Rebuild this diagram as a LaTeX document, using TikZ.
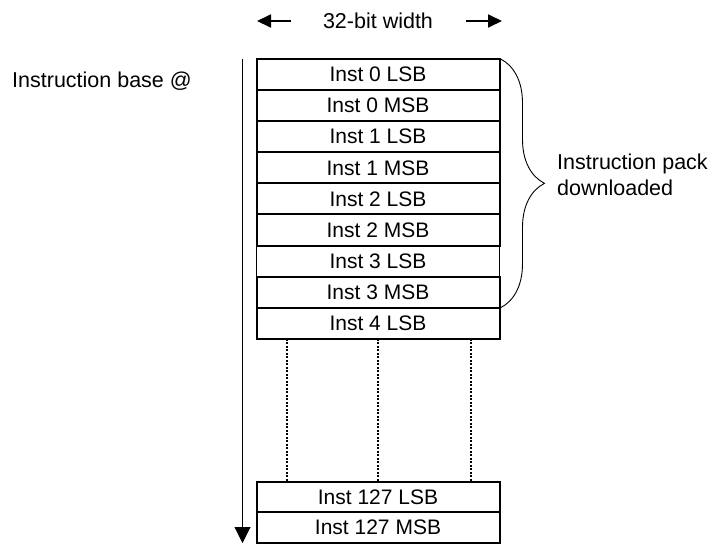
\documentclass[tikz,border=0pt]{standalone}
\usepackage{fontspec}
\setmainfont{Liberation Sans}
\usetikzlibrary{positioning,arrows.meta,decorations.pathreplacing}

\tikzset{
  cell/.style={draw,line width=2pt,minimum width=243pt,minimum height=31.1pt,
    inner sep=0pt,outer sep=0pt,font=\fontsize{21}{24}\selectfont},
  thincell/.style={cell,line width=0.8pt},
  lbl/.style={font=\fontsize{21.5}{26}\selectfont,inner sep=0pt},
}

\begin{document}
\begin{tikzpicture}[x=1pt,y=-1pt,>=Latex,line cap=butt,line join=miter]
            \useasboundingbox (0,0) rectangle (715,544);

            % top rows of the memory
            \node[cell] (r0) at (378,74.5) {Inst 0 LSB};
            \node[cell,below=0pt of r0] (r1) {Inst 0 MSB};
            \node[cell,below=0pt of r1] (r2) {Inst 1 LSB};
            \node[cell,below=0pt of r2] (r3) {Inst 1 MSB};
            \node[cell,below=0pt of r3] (r4) {Inst 2 LSB};
            \node[cell,below=0pt of r4] (r5) {Inst 2 MSB};
            \node[thincell,below=0pt of r5] (r6) {Inst 3 LSB};
            \node[cell,below=0pt of r6] (r7) {Inst 3 MSB};
            \node[cell,below=0pt of r7] (r8) {Inst 4 LSB};

            % last rows
            \node[cell,minimum height=30.7pt] (q0) at (378,497) {Inst 127 LSB};
            \node[cell,minimum height=30.7pt,below=0pt of q0] (q1) {Inst 127 MSB};

            % dotted gap
            \foreach \dx in {-91,0,93}
                \draw[line width=2pt,dash pattern=on 2pt off 1.5pt]
                ([xshift=\dx pt]r8.south) -- ([xshift=\dx pt]q0.north);

            % address arrow
            \coordinate (atop) at (242.5,59);
            \coordinate (abot) at (242.5,543);
            \draw[line width=1pt,-{Triangle[length=16pt,width=16pt]}] (atop) -- (abot);
            \node[lbl,anchor=west] (base) at (12,81) {Instruction base @};

            % width arrows
            \node[lbl] (wid) at (378,21) {32-bit width};
            \coordinate (wl) at (257,21);
            \coordinate (wr) at (502,21);
            \draw[line width=1.8pt,-{Triangle[length=14pt,width=13pt]}] ([xshift=34pt]wl) -- (wl);
            \draw[line width=1.8pt,-{Triangle[length=14pt,width=13pt]}] ([xshift=-36pt]wr) -- (wr);

            % brace
            \draw[line width=0.9pt,decorate,decoration={brace,amplitude=44pt,raise=1pt,aspect=0.5}]
            (r0.north east) -- (r7.south east);
            \node[lbl,anchor=west,align=left] (pack) at (557,175) {Instruction pack\\downloaded};
\end{tikzpicture}
\end{document}
